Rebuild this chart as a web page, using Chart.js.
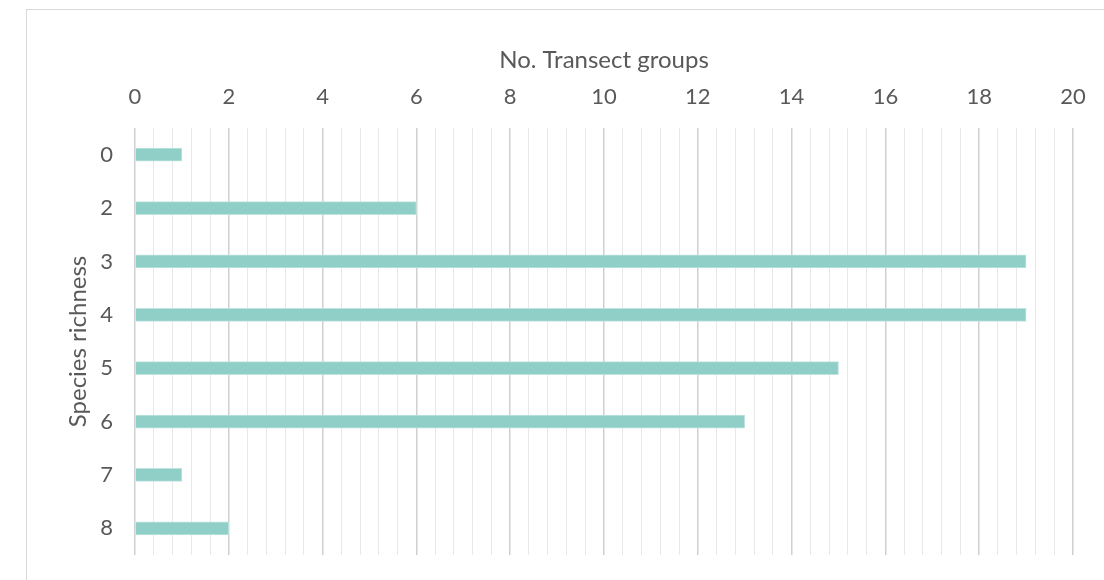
<!DOCTYPE html>
<html><head><meta charset="utf-8">
<script src="https://cdn.jsdelivr.net/npm/chart.js@4"></script>
<style>
html,body{margin:0;padding:0;background:#fff;}
#wrap{position:relative;width:1104px;height:580px;overflow:hidden;}
#frame{position:absolute;left:26px;top:9px;width:1200px;height:700px;border:1px solid #d9d9d9;box-sizing:border-box;}
canvas{position:absolute;left:0;top:0;}
</style></head>
<body><div id="wrap"><div id="frame"></div><canvas id="c" width="1104" height="580"></canvas></div>
<script>
const categories = ['0','2','3','4','5','6','7','8'];
const transectGroups = [1, 6, 19, 19, 15, 13, 1, 2];
const xMin = 0, xMax = 20, minorStep = 0.4, majorStep = 2;
const xTitle = 'No. Transect groups';
const yTitle = 'Species richness';

const isMajor = v => Math.abs(v / majorStep - Math.round(v / majorStep)) < 1e-6;
const font = 'Lato, "Open Sans", sans-serif';

new Chart(document.getElementById('c'), {
  type: 'bar',
  data: {
    labels: categories,
    datasets: [{
      data: transectGroups,
      backgroundColor: '#8fcfc8',
      borderColor: '#bfe4e0',
      borderWidth: 1,
      barThickness: 13
    }]
  },
  options: {
    indexAxis: 'y',
    responsive: false,
    animation: false,
    layout: { padding: { left: 0, right: 31, top: 0, bottom: 25 } },
    plugins: { legend: { display: false }, tooltip: { enabled: false } },
    scales: {
      x: {
        position: 'top',
        min: xMin, max: xMax,
        afterFit: s => { s.height = 128; },
        border: { display: false },
        grid: {
          drawTicks: false,
          color: ctx => isMajor(ctx.tick.value) ? '#d0d0d0' : '#e8e8e8',
          lineWidth: ctx => isMajor(ctx.tick.value) ? 1.5 : 1
        },
        ticks: {
          stepSize: minorStep,
          autoSkip: false,
          maxRotation: 0,
          padding: 18,
          color: '#595959',
          font: { family: font, size: 22 },
          callback: v => isMajor(v) ? String(Math.round(v)) : ''
        },
        title: {
          display: true, text: xTitle, color: '#595959',
          font: { family: font, size: 24 },
          padding: { top: 46, bottom: 0 }
        }
      },
      y: {
        afterFit: s => { s.width = 135; s.paddingTop = 0; s.paddingBottom = 0; },
        border: { display: false },
        grid: { display: false },
        ticks: {
          padding: 14,
          color: '#595959',
          font: { family: font, size: 22 }
        },
        title: {
          display: true, text: yTitle, color: '#595959',
          font: { family: font, size: 24 },
          padding: { top: 64, bottom: 0 }
        }
      }
    }
  }
});
</script></body></html>
